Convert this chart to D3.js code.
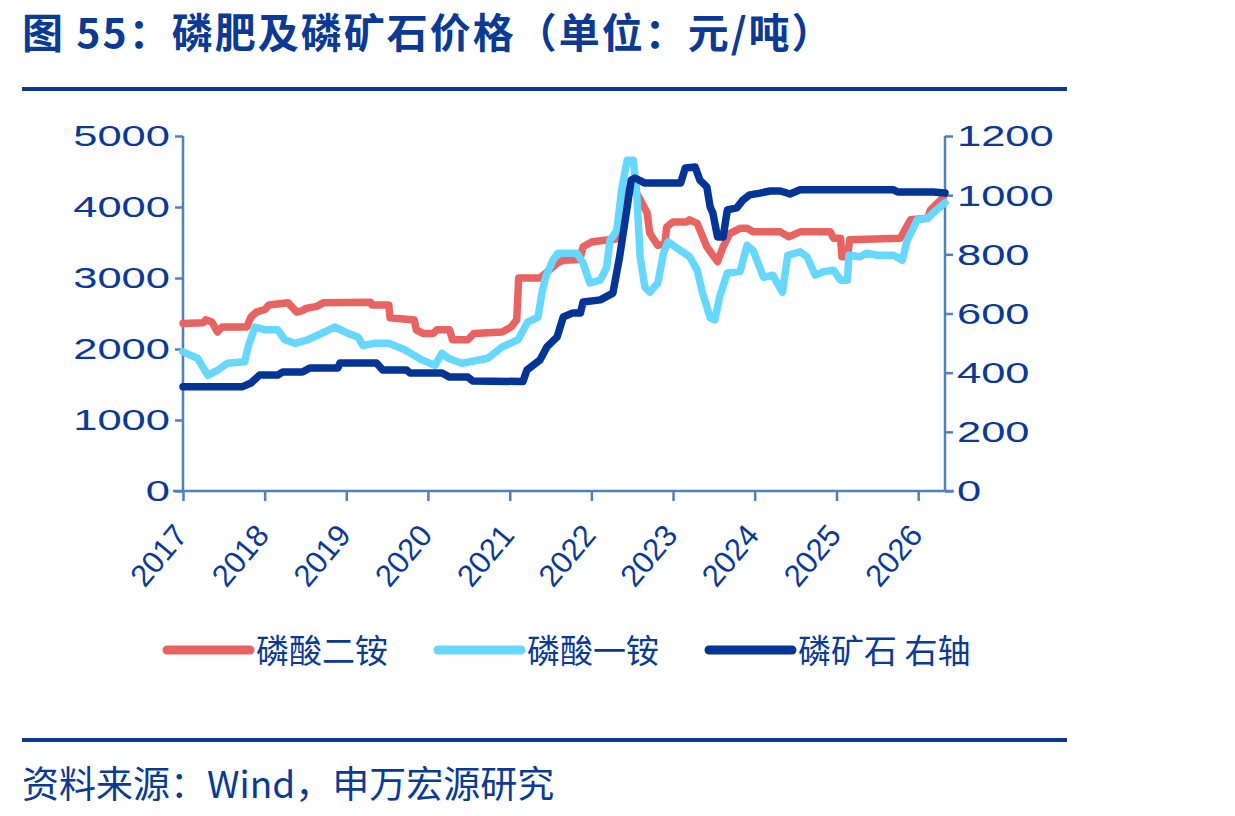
<!DOCTYPE html>
<html>
<head>
<meta charset="utf-8">
<script src="https://cdn.jsdelivr.net/npm/d3@7"></script>
<style>
  body { margin: 0; background: #fff; }
  svg text { font-family: "Liberation Sans", Arial, sans-serif; }
</style>
</head>
<body>
<div id="chart"></div>
<script>
// values (yuan / ton)
const dapSeries = [
  ["2017-01-01", 2360], ["2017-04-01", 2370], ["2017-04-13", 2410], ["2017-05-10", 2380],
  ["2017-06-04", 2240], ["2017-06-25", 2310], ["2017-10-13", 2310], ["2017-11-01", 2450],
  ["2017-11-25", 2520], ["2018-01-04", 2560], ["2018-01-20", 2620], ["2018-04-16", 2650],
  ["2018-05-25", 2520], ["2018-06-19", 2540], ["2018-07-04", 2570], ["2018-08-22", 2600],
  ["2018-09-20", 2650], ["2019-04-20", 2660], ["2019-04-25", 2620], ["2019-07-10", 2620],
  ["2019-07-16", 2440], ["2019-11-01", 2410], ["2019-11-10", 2270], ["2019-12-10", 2220],
  ["2020-01-25", 2220], ["2020-02-10", 2270], ["2020-04-07", 2270], ["2020-04-20", 2130],
  ["2020-06-28", 2130], ["2020-07-25", 2220], ["2020-11-28", 2240], ["2021-01-07", 2310],
  ["2021-02-01", 2410], ["2021-02-10", 3000], ["2021-05-16", 3000], ["2021-06-16", 3080],
  ["2021-08-01", 3210], ["2021-08-28", 3250], ["2021-11-10", 3260], ["2021-11-25", 3440],
  ["2022-01-04", 3510], ["2022-04-20", 3550], ["2022-05-16", 4060], ["2022-06-22", 4280],
  ["2022-07-20", 4210], ["2022-09-07", 3920], ["2022-09-19", 3630], ["2022-10-25", 3460],
  ["2022-11-25", 3480], ["2022-12-04", 3720], ["2023-01-01", 3790], ["2023-03-04", 3790],
  ["2023-03-16", 3820], ["2023-04-19", 3770], ["2023-06-01", 3440], ["2023-07-19", 3230],
  ["2023-08-13", 3440], ["2023-09-13", 3630], ["2023-10-28", 3700], ["2023-11-28", 3700],
  ["2023-12-25", 3650], ["2024-04-25", 3650], ["2024-06-01", 3580], ["2024-07-22", 3650],
  ["2024-12-04", 3650], ["2024-12-19", 3560], ["2025-01-19", 3560], ["2025-01-25", 3300],
  ["2025-02-19", 3300], ["2025-03-01", 3540], ["2025-10-13", 3560], ["2025-11-28", 3820],
  ["2026-02-13", 3840], ["2026-02-25", 3960], ["2026-04-22", 4130]
];

const mapSeries = [
  ["2017-01-01", 1960], ["2017-03-07", 1870], ["2017-04-22", 1630], ["2017-06-04", 1700],
  ["2017-07-19", 1800], ["2017-10-04", 1820], ["2017-10-19", 2030], ["2017-11-19", 2310],
  ["2018-01-04", 2270], ["2018-03-01", 2270], ["2018-04-01", 2130], ["2018-05-16", 2080],
  ["2018-07-13", 2130], ["2018-09-13", 2220], ["2018-11-10", 2310], ["2019-01-10", 2220],
  ["2019-02-22", 2170], ["2019-03-16", 2050], ["2019-05-07", 2080], ["2019-07-10", 2080],
  ["2019-09-19", 1990], ["2019-12-04", 1850], ["2020-02-01", 1770], ["2020-03-04", 1940],
  ["2020-04-01", 1870], ["2020-06-01", 1800], ["2020-09-25", 1870], ["2020-11-28", 2030],
  ["2021-02-07", 2130], ["2021-03-22", 2380], ["2021-05-07", 2450], ["2021-05-25", 2790],
  ["2021-06-10", 3010], ["2021-07-13", 3250], ["2021-08-04", 3350], ["2021-10-28", 3350],
  ["2021-11-25", 3210], ["2021-12-25", 2930], ["2022-02-10", 2970], ["2022-03-10", 3150],
  ["2022-03-25", 3530], ["2022-04-25", 3670], ["2022-05-16", 4240], ["2022-06-10", 4660],
  ["2022-07-07", 4660], ["2022-07-22", 4240], ["2022-08-07", 3300], ["2022-08-28", 2870],
  ["2022-09-19", 2800], ["2022-10-25", 2930], ["2022-11-19", 3350], ["2022-12-10", 3510],
  ["2023-01-19", 3420], ["2023-03-16", 3300], ["2023-04-19", 3110], ["2023-05-13", 2790],
  ["2023-06-16", 2440], ["2023-07-07", 2410], ["2023-07-28", 2730], ["2023-09-01", 3070],
  ["2023-10-28", 3090], ["2023-11-28", 3460], ["2023-12-25", 3390], ["2024-02-10", 3010],
  ["2024-03-22", 3040], ["2024-05-04", 2800], ["2024-05-28", 3320], ["2024-07-22", 3370],
  ["2024-08-22", 3300], ["2024-09-28", 3040], ["2024-11-04", 3090], ["2024-12-19", 3110],
  ["2025-01-19", 2970], ["2025-02-19", 2970], ["2025-02-25", 3320], ["2025-04-16", 3300],
  ["2025-05-16", 3350], ["2025-07-01", 3320], ["2025-09-13", 3320], ["2025-10-22", 3250],
  ["2025-11-13", 3530], ["2025-12-28", 3820], ["2026-02-13", 3840], ["2026-03-10", 3920],
  ["2026-05-01", 4060]
];

// right axis
const rockSeries = [
  ["2017-01-01", 352], ["2017-09-22", 352], ["2017-11-01", 365], ["2017-12-10", 392],
  ["2018-03-01", 392], ["2018-03-22", 402], ["2018-06-19", 402], ["2018-07-22", 416],
  ["2018-11-25", 416], ["2018-12-04", 433], ["2019-05-16", 433], ["2019-06-13", 409],
  ["2019-09-28", 409], ["2019-10-13", 399], ["2020-03-04", 399], ["2020-04-07", 385],
  ["2020-06-28", 385], ["2020-07-19", 372], ["2021-03-01", 370], ["2021-03-19", 409],
  ["2021-05-16", 443], ["2021-06-16", 487], ["2021-08-01", 521], ["2021-08-28", 588],
  ["2021-10-10", 602], ["2021-11-13", 602], ["2021-11-25", 639], ["2022-02-10", 646],
  ["2022-04-07", 669], ["2022-05-07", 791], ["2022-06-10", 960], ["2022-06-28", 1051],
  ["2022-07-15", 1058], ["2022-08-28", 1041], ["2023-02-04", 1041], ["2023-02-25", 1092],
  ["2023-04-10", 1095], ["2023-05-01", 1051], ["2023-06-01", 1028], ["2023-06-16", 960],
  ["2023-06-28", 940], ["2023-07-19", 859], ["2023-08-13", 859], ["2023-09-01", 950],
  ["2023-10-13", 957], ["2023-11-10", 984], ["2023-12-10", 1001], ["2024-01-25", 1007],
  ["2024-03-10", 1014], ["2024-04-25", 1014], ["2024-06-07", 1004], ["2024-07-22", 1018],
  ["2025-09-13", 1018], ["2025-10-01", 1011], ["2026-03-10", 1011], ["2026-05-01", 1007]
];

const yearTicks = ["2017", "2018", "2019", "2020", "2021", "2022", "2023", "2024", "2025", "2026"];
const leftTicks = [0, 1000, 2000, 3000, 4000, 5000];
const rightTicks = [0, 200, 400, 600, 800, 1000, 1200];
const legendNames = ["磷酸二铵", "磷酸一铵", "磷矿石 右轴"];

const titleText = "图 55：磷肥及磷矿石价格（单位：元/吨）";
const sourceText = "资料来源：Wind，申万宏源研究";

const navy = "#0b3a94",
    axisColor = "#4f81bd",
    colors = ["#e86462", "#66d7fd", "#033596"];

const W = 1235, H = 816;
const parse = d3.timeParse("%Y-%m-%d");

let svg = d3.select("#chart").append("svg")
    .attr("width", W)
    .attr("height", H);

// title + rules
svg.append("text")
    .attr("x", 22).attr("y", 48)
    .style("font-family", "'Noto Sans CJK SC', sans-serif")
    .style("font-weight", 700)
    .style("font-size", "41px")
    .style("letter-spacing", "2px")
    .attr("fill", navy)
    .text(titleText);

svg.append("rect").attr("x", 22).attr("y", 87).attr("width", 1045).attr("height", 4).attr("fill", "#0a3897");
svg.append("rect").attr("x", 22).attr("y", 738).attr("width", 1045).attr("height", 4).attr("fill", "#0a3897");

svg.append("text")
    .attr("x", 22).attr("y", 798)
    .style("font-family", "'Noto Sans CJK SC', sans-serif")
    .style("font-size", "37px")
    .attr("fill", navy)
    .text(sourceText);

// scales
let x = d3.scaleTime()
    .domain([parse("2017-01-01"), parse("2026-05-01")])
    .range([183, 945]);

let yL = d3.scaleLinear().domain([0, 5000]).range([491, 136]);
let yR = d3.scaleLinear().domain([0, 1200]).range([491, 136]);

// axes
let axL = svg.append("g")
    .attr("transform", "translate(183,0)")
    .call(d3.axisLeft(yL).tickValues(leftTicks).tickSize(8).tickFormat(""));

let axR = svg.append("g")
    .attr("transform", "translate(945,0)")
    .call(d3.axisRight(yR).tickValues(rightTicks).tickSize(8).tickFormat(""));

let axB = svg.append("g")
    .attr("transform", "translate(0,491)")
    .call(d3.axisBottom(x).tickValues(yearTicks.map(function(d) { return parse(d + "-01-01"); }))
        .tickSize(10).tickFormat(""));

[axL, axR, axB].forEach(function(a) {
    a.select(".domain").remove();
    a.selectAll(".tick line").attr("stroke", axisColor).attr("stroke-width", 2.5);
});

svg.append("line").attr("x1", 183).attr("x2", 183).attr("y1", 136).attr("y2", 491)
    .attr("stroke", axisColor).attr("stroke-width", 2.5);
svg.append("line").attr("x1", 945).attr("x2", 945).attr("y1", 136).attr("y2", 491)
    .attr("stroke", axisColor).attr("stroke-width", 2.5);
svg.append("line").attr("x1", 173).attr("x2", 954).attr("y1", 491).attr("y2", 491)
    .attr("stroke", axisColor).attr("stroke-width", 2.5);

// tick labels (the reference digits are drawn wide)
leftTicks.forEach(function(v) {
    svg.append("g").attr("transform", "translate(170," + yL(v) + ")")
        .append("text")
        .attr("transform", "scale(1.5,1)")
        .attr("text-anchor", "end")
        .attr("dy", "0.36em")
        .style("font-size", "29px")
        .attr("fill", navy)
        .text(v);
});

rightTicks.forEach(function(v) {
    svg.append("g").attr("transform", "translate(957," + yR(v) + ")")
        .append("text")
        .attr("transform", "scale(1.5,1)")
        .attr("text-anchor", "start")
        .attr("dy", "0.36em")
        .style("font-size", "29px")
        .attr("fill", navy)
        .text(v);
});

yearTicks.forEach(function(yr) {
    let px = x(parse(yr + "-01-01"));
    svg.append("text")
        .attr("transform", "translate(" + (px + 6) + ",536) rotate(-50)")
        .attr("text-anchor", "end")
        .style("font-size", "31px")
        .attr("fill", navy)
        .text(yr);
});

// lines
let lineL = d3.line()
    .x(function(d) { return x(parse(d[0])); })
    .y(function(d) { return yL(d[1]); });

let lineR = d3.line()
    .x(function(d) { return x(parse(d[0])); })
    .y(function(d) { return yR(d[1]); });

let series = [
    { data: dapSeries, line: lineL },
    { data: mapSeries, line: lineL },
    { data: rockSeries, line: lineR }
];

series.forEach(function(s, i) {
    svg.append("path")
        .attr("d", s.line(s.data))
        .attr("fill", "none")
        .attr("stroke", colors[i])
        .attr("stroke-width", 7.5)
        .attr("stroke-linejoin", "round")
        .attr("stroke-linecap", "round");
});

// legend
let legendX = [167, 438, 709];
legendNames.forEach(function(name, i) {
    svg.append("line")
        .attr("x1", legendX[i]).attr("x2", legendX[i] + 83)
        .attr("y1", 650).attr("y2", 650)
        .attr("stroke", colors[i])
        .attr("stroke-width", 9)
        .attr("stroke-linecap", "round");
    svg.append("text")
        .attr("x", legendX[i] + 89).attr("y", 663)
        .style("font-family", "'Noto Sans CJK SC', sans-serif")
        .style("font-size", "33px")
        .attr("fill", navy)
        .text(name);
});
</script>
</body>
</html>
